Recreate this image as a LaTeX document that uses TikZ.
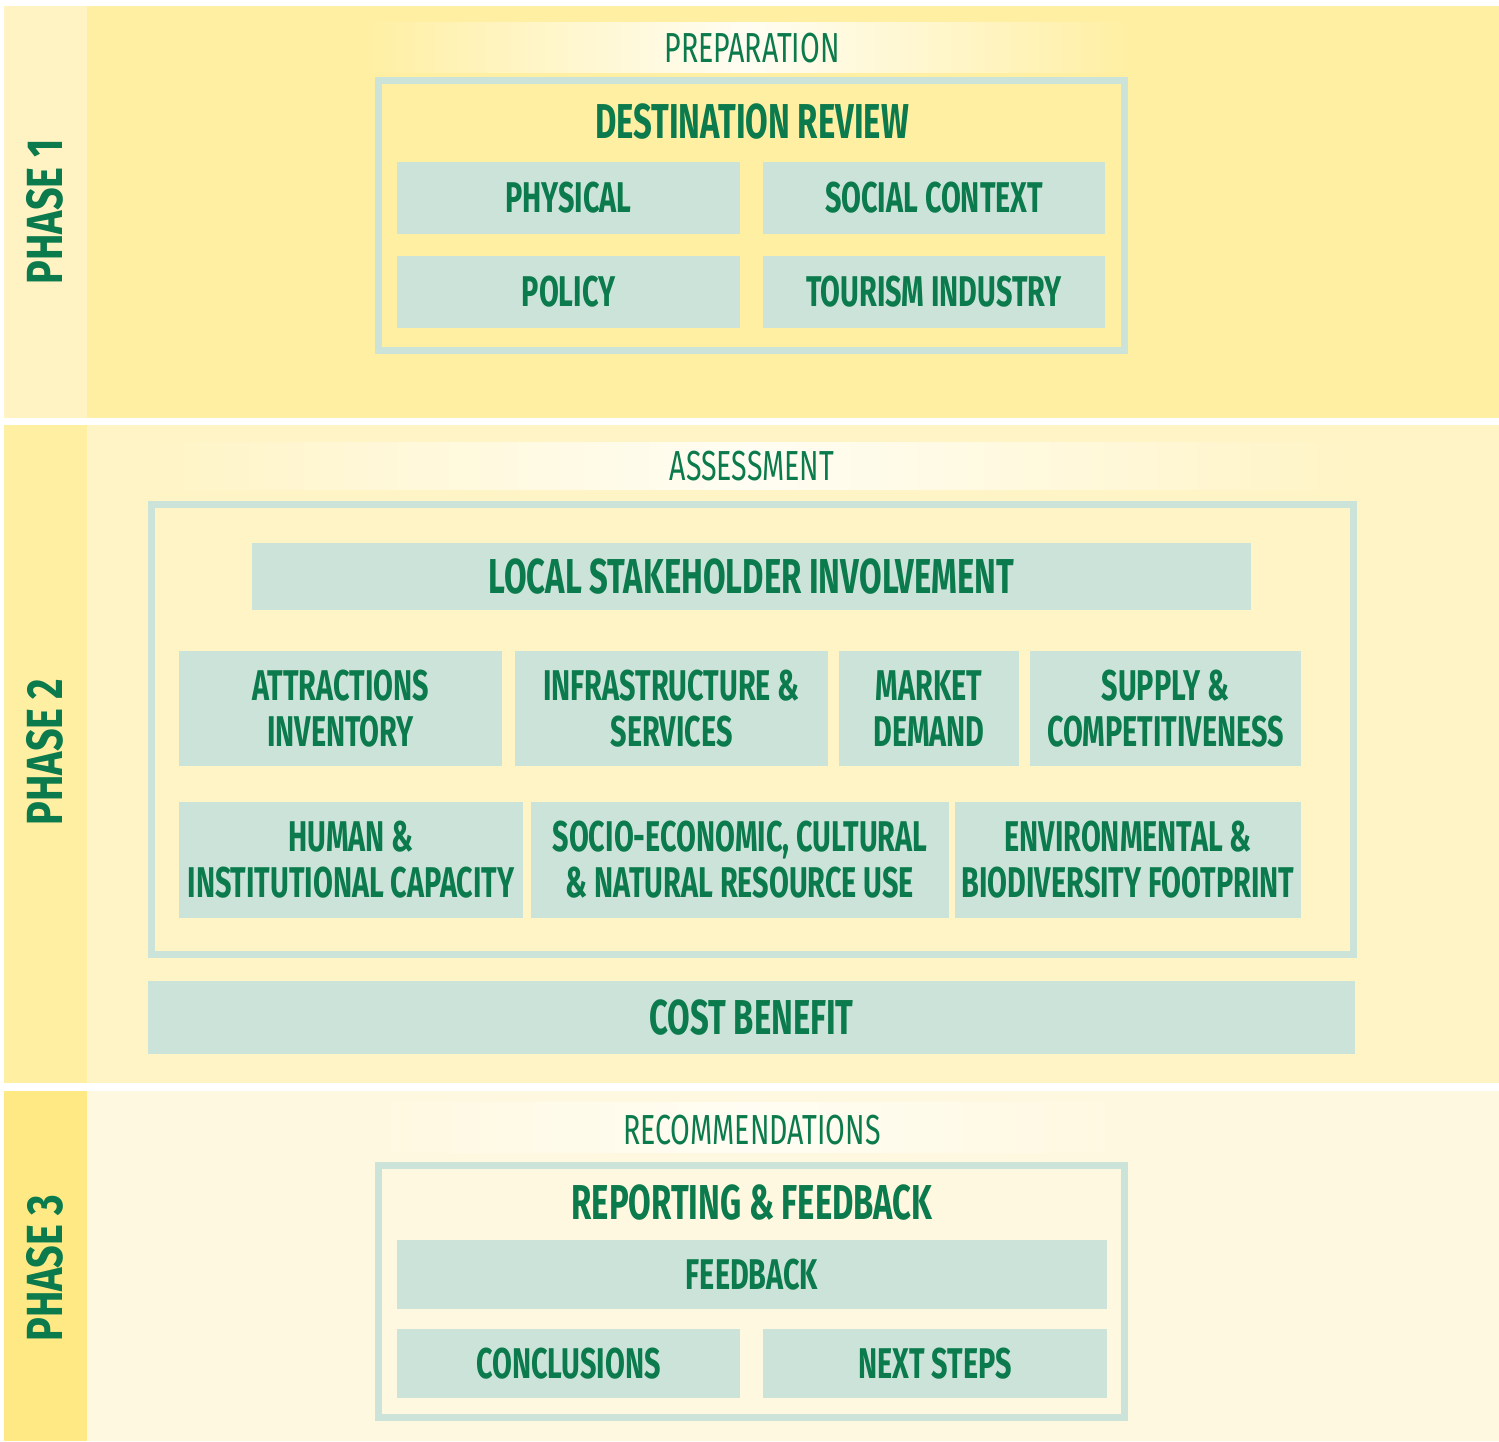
\documentclass[tikz,border=0pt]{standalone}
\usepackage{fontspec}
\setmainfont{Fira Sans}[FakeStretch=0.67]
\newfontfamily\phasefont{Fira Sans}[FakeStretch=0.78]
\newfontfamily\headfont{Fira Sans}[FakeStretch=0.68]
\usetikzlibrary{fit}
\definecolor{ink}{HTML}{0B7A4C}
\definecolor{cellfill}{HTML}{CCE3DA}
\definecolor{pAstrip}{HTML}{FFF3C4}
\definecolor{pAmain}{HTML}{FFEFA2}
\definecolor{pBstrip}{HTML}{FFEFA2}
\definecolor{pBmain}{HTML}{FFF4C6}
\definecolor{pCstrip}{HTML}{FFE985}
\definecolor{pCmain}{HTML}{FFF8E0}
\definecolor{headlight}{HTML}{FFFDF3}
\begin{document}
\begin{tikzpicture}[x=0.5pt,y=-0.5pt,
  cell/.style={fill=cellfill, inner sep=0pt},
  celltext/.style={text=ink, inner sep=0pt, align=center,
    font=\bfseries\fontsize{21.5}{23}\selectfont},
  bigtext/.style={text=ink, inner sep=0pt, align=center,
    font=\bfseries\fontsize{24.5}{26}\selectfont},
  frame/.style={draw=cellfill, line width=3.5pt, inner sep=0pt},
  header/.style={text=ink, inner sep=0pt, font=\headfont\fontsize{21}{23}\selectfont},
  phase/.style={text=ink, inner sep=0pt, rotate=90,
    font=\phasefont\bfseries\fontsize{25.4}{27}\selectfont}]
\useasboundingbox (0,0) rectangle (1499,1441);
\fill[white] (0,0) rectangle (1499,1441);

% ---- phase bands ----
\fill[pAstrip] (4,6) rectangle (87,418);
\fill[pAmain] (87,6) rectangle (1499,418);
\fill[pBstrip] (4,425) rectangle (87,1083);
\fill[pBmain] (87,425) rectangle (1499,1083);
\fill[pCstrip] (4,1091) rectangle (87,1441);
\fill[pCmain] (87,1091) rectangle (1499,1441);

% header glows
\shade[left color=pAmain, right color=pAmain, middle color=headlight] (360,22) rectangle (1135,72);
\shade[left color=pBmain, right color=pBmain, middle color=headlight] (150,442) rectangle (1350,489);
\shade[left color=pCmain, right color=pCmain, middle color=headlight] (360,1102) rectangle (1135,1152);

% ---- phase labels ----
\node[phase] (ph1) at (45,212) {PHASE 1};
\node[phase] (ph2) at (45,752) {PHASE 2};
\node[phase] (ph3) at (45,1268) {PHASE 3};

% ---- phase 1: preparation ----
\node[header] (prep) at (752,48) {PREPARATION};
\node[frame, fit={(378.5,80.5) (1124.5,350)}] (review) {};
\node[bigtext] (reviewtitle) at (752,122) {DESTINATION REVIEW};
\node[cell, fit={(397,162) (740,234)}] (physical) {};
\node[cell, fit={(763,162) (1105,234)}] (social) {};
\node[cell, fit={(397,256) (740,328)}] (policy) {};
\node[cell, fit={(763,256) (1105,328)}] (industry) {};
\node[celltext] at (physical.center) {PHYSICAL};
\node[celltext] at (social.center) {SOCIAL CONTEXT};
\node[celltext] at (policy.center) {POLICY};
\node[celltext] at (industry.center) {TOURISM INDUSTRY};

% ---- phase 2: assessment ----
\node[header] (assess) at (752,466) {ASSESSMENT};
\node[frame, fit={(151,504.5) (1353,954.5)}] (assessframe) {};
\node[cell, fit={(252,543) (1251,610)}] (stake) {};
\node[cell, fit={(179,651) (502,766)}] (attract) {};
\node[cell, fit={(515,651) (828,766)}] (infra) {};
\node[cell, fit={(839,651) (1019,766)}] (market) {};
\node[cell, fit={(1030,651) (1301,766)}] (supply) {};
\node[cell, fit={(179,802) (523,918)}] (human) {};
\node[cell, fit={(531,802) (949,918)}] (socio) {};
\node[cell, fit={(955,802) (1301,918)}] (env) {};
\node[cell, fit={(148,981) (1355,1054)}] (cost) {};
\node[bigtext] at (stake.center) {LOCAL STAKEHOLDER INVOLVEMENT};
\node[celltext] at (attract.center) {ATTRACTIONS\\INVENTORY};
\node[celltext] at (infra.center) {INFRASTRUCTURE \&\\SERVICES};
\node[celltext] at (market.center) {MARKET\\DEMAND};
\node[celltext] at (supply.center) {SUPPLY \&\\COMPETITIVENESS};
\node[celltext] at (human.center) {HUMAN \&\\INSTITUTIONAL CAPACITY};
\node[celltext] at (socio.center) {SOCIO-ECONOMIC, CULTURAL\\\& NATURAL RESOURCE USE};
\node[celltext] at (env.center) {ENVIRONMENTAL \&\\BIODIVERSITY FOOTPRINT};
\node[bigtext] at (cost.center) {COST BENEFIT};

% ---- phase 3: recommendations ----
\node[header] (recom) at (752,1130) {RECOMMENDATIONS};
\node[frame, fit={(378,1165.5) (1124.5,1417.5)}] (reportframe) {};
\node[bigtext] (reporttitle) at (752,1203) {REPORTING \& FEEDBACK};
\node[cell, fit={(397,1240) (1107,1309)}] (feedback) {};
\node[cell, fit={(397,1329) (740,1398)}] (conclusions) {};
\node[cell, fit={(763,1329) (1107,1398)}] (next) {};
\node[celltext] at (feedback.center) {FEEDBACK};
\node[celltext] at (conclusions.center) {CONCLUSIONS};
\node[celltext] at (next.center) {NEXT STEPS};
\end{tikzpicture}
\end{document}
